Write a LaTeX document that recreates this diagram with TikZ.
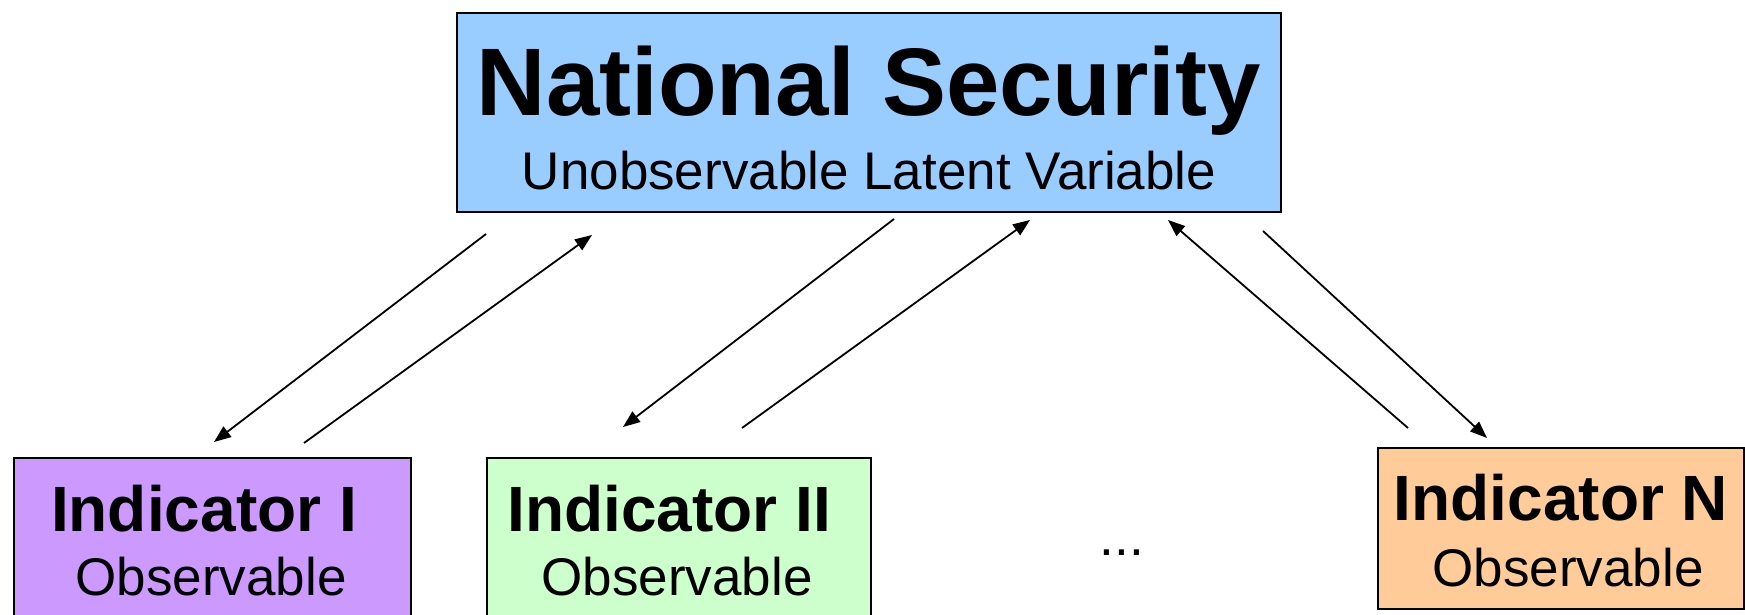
\documentclass[tikz,border=0pt]{standalone}
\usepackage{fontspec}
\setmainfont{Liberation Sans}
\usetikzlibrary{arrows.meta}
\definecolor{nsblue}{HTML}{99CCFF}
\definecolor{indpurple}{HTML}{CC99FF}
\definecolor{indgreen}{HTML}{CCFFCC}
\definecolor{indorange}{HTML}{FFCC99}
\begin{document}
\begin{tikzpicture}[x=1pt,y=-1pt,
  box/.style={draw=black,line width=2pt,inner sep=0pt,anchor=north west},
  titletext/.style={anchor=base,inner sep=0pt,font=\fontsize{96}{96}\selectfont\bfseries},
  subtext/.style={anchor=base,inner sep=0pt,font=\fontsize{53}{53}\selectfont},
  indtext/.style={anchor=base,inner sep=0pt,font=\fontsize{64}{64}\selectfont\bfseries},
  conn/.style={line width=1.8pt,-{Triangle[length=17pt,width=13pt]}}]
\useasboundingbox (0,0) rectangle (1745,615);
\clip (0,0) rectangle (1745,615);
% boxes
\node[box,fill=nsblue,minimum width=824pt,minimum height=199pt] (ns) at (456,12) {};
\node[box,fill=indpurple,minimum width=397pt,minimum height=190pt] (i1) at (13,457) {};
\node[box,fill=indgreen,minimum width=384pt,minimum height=190pt] (i2) at (486,457) {};
\node[box,fill=indorange,minimum width=366pt,minimum height=161pt] (iN) at (1377,447) {};
% texts
\node[titletext] (nst) at (869,116) {National Security};
\node[subtext] (nss) at (869,189) {Unobservable Latent Variable};
\node[indtext] (i1t) at (204,531) {Indicator I};
\node[subtext] (i1s) at (211,595) {Observable};
\node[indtext] (i2t) at (669,531) {Indicator II};
\node[subtext] (i2s) at (677,595) {Observable};
\node[indtext] (iNt) at (1561,520) {Indicator N};
\node[subtext] (iNs) at (1568,586) {Observable};
\node[subtext] (dots) at (1122,555) {...};
% connector ends
\coordinate (a1s) at (486,234); \coordinate (a1e) at (214,442);
\coordinate (a2s) at (304,443); \coordinate (a2e) at (592,235);
\coordinate (a3s) at (894,219); \coordinate (a3e) at (623,427);
\coordinate (a4s) at (742,428); \coordinate (a4e) at (1030,220);
\coordinate (a5s) at (1408,428); \coordinate (a5e) at (1168,220);
\coordinate (a6s) at (1263,231); \coordinate (a6e) at (1487,438);
\draw[conn] (a1s) -- (a1e);
\draw[conn] (a2s) -- (a2e);
\draw[conn] (a3s) -- (a3e);
\draw[conn] (a4s) -- (a4e);
\draw[conn] (a5s) -- (a5e);
\draw[conn] (a6s) -- (a6e);
\end{tikzpicture}
\end{document}
